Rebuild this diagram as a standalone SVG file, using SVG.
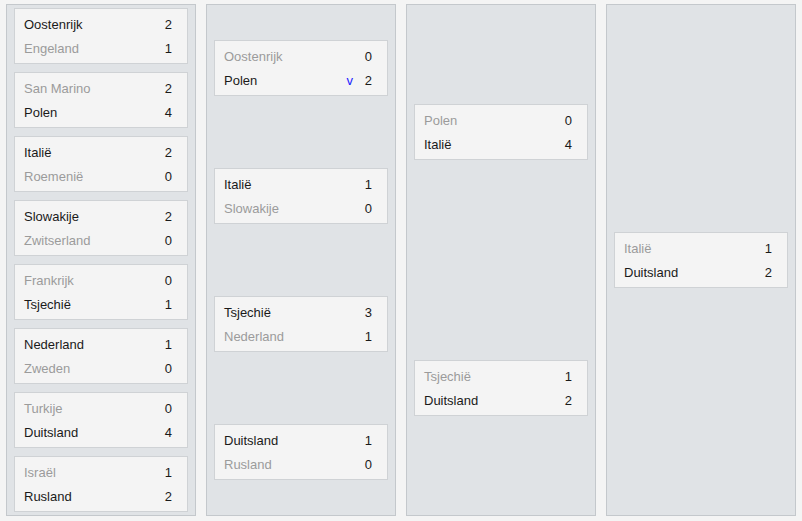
<svg xmlns="http://www.w3.org/2000/svg" width="802" height="521" viewBox="0 0 802 521">
<style>
.col{fill:#e0e3e6;stroke:#c4c8cc;stroke-width:1}
.box{fill:#f4f4f4;stroke:#cfd2d5;stroke-width:1}
text{font-family:"Liberation Sans",Arial,sans-serif;font-size:13px}
.w{fill:#1a1a1a}
.l{fill:#9b9b9b}
.n{fill:#1a1a1a;text-anchor:end}
.v{fill:#1a1aff;text-anchor:end}
</style>
<rect width="802" height="521" fill="#f4f4f4"/>
<g id="columns">
<rect class="col" x="6.5" y="4.5" width="189" height="511"/>
<rect class="col" x="206.5" y="4.5" width="189" height="511"/>
<rect class="col" x="406.5" y="4.5" width="189" height="511"/>
<rect class="col" x="606.5" y="4.5" width="189" height="511"/>
</g>
<g id="connectors"></g>
<g id="r1m1"><rect class="box" x="14.5" y="8.5" width="173" height="55"/><text class="w" x="24" y="29">Oostenrijk</text><text class="n" x="172" y="29">2</text><text class="l" x="24" y="53">Engeland</text><text class="n" x="172" y="53">1</text></g>
<g id="r1m2"><rect class="box" x="14.5" y="72.5" width="173" height="55"/><text class="l" x="24" y="93">San Marino</text><text class="n" x="172" y="93">2</text><text class="w" x="24" y="117">Polen</text><text class="n" x="172" y="117">4</text></g>
<g id="r1m3"><rect class="box" x="14.5" y="136.5" width="173" height="55"/><text class="w" x="24" y="157">Italië</text><text class="n" x="172" y="157">2</text><text class="l" x="24" y="181">Roemenië</text><text class="n" x="172" y="181">0</text></g>
<g id="r1m4"><rect class="box" x="14.5" y="200.5" width="173" height="55"/><text class="w" x="24" y="221">Slowakije</text><text class="n" x="172" y="221">2</text><text class="l" x="24" y="245">Zwitserland</text><text class="n" x="172" y="245">0</text></g>
<g id="r1m5"><rect class="box" x="14.5" y="264.5" width="173" height="55"/><text class="l" x="24" y="285">Frankrijk</text><text class="n" x="172" y="285">0</text><text class="w" x="24" y="309">Tsjechië</text><text class="n" x="172" y="309">1</text></g>
<g id="r1m6"><rect class="box" x="14.5" y="328.5" width="173" height="55"/><text class="w" x="24" y="349">Nederland</text><text class="n" x="172" y="349">1</text><text class="l" x="24" y="373">Zweden</text><text class="n" x="172" y="373">0</text></g>
<g id="r1m7"><rect class="box" x="14.5" y="392.5" width="173" height="55"/><text class="l" x="24" y="413">Turkije</text><text class="n" x="172" y="413">0</text><text class="w" x="24" y="437">Duitsland</text><text class="n" x="172" y="437">4</text></g>
<g id="r1m8"><rect class="box" x="14.5" y="456.5" width="173" height="55"/><text class="l" x="24" y="477">Israël</text><text class="n" x="172" y="477">1</text><text class="w" x="24" y="501">Rusland</text><text class="n" x="172" y="501">2</text></g>
<g id="r2m1"><rect class="box" x="214.5" y="40.5" width="173" height="55"/><text class="l" x="224" y="61">Oostenrijk</text><text class="n" x="372" y="61">0</text><text class="w" x="224" y="85">Polen</text><text class="v" x="353" y="85">v</text><text class="n" x="372" y="85">2</text></g>
<g id="r2m2"><rect class="box" x="214.5" y="168.5" width="173" height="55"/><text class="w" x="224" y="189">Italië</text><text class="n" x="372" y="189">1</text><text class="l" x="224" y="213">Slowakije</text><text class="n" x="372" y="213">0</text></g>
<g id="r2m3"><rect class="box" x="214.5" y="296.5" width="173" height="55"/><text class="w" x="224" y="317">Tsjechië</text><text class="n" x="372" y="317">3</text><text class="l" x="224" y="341">Nederland</text><text class="n" x="372" y="341">1</text></g>
<g id="r2m4"><rect class="box" x="214.5" y="424.5" width="173" height="55"/><text class="w" x="224" y="445">Duitsland</text><text class="n" x="372" y="445">1</text><text class="l" x="224" y="469">Rusland</text><text class="n" x="372" y="469">0</text></g>
<g id="r3m1"><rect class="box" x="414.5" y="104.5" width="173" height="55"/><text class="l" x="424" y="125">Polen</text><text class="n" x="572" y="125">0</text><text class="w" x="424" y="149">Italië</text><text class="n" x="572" y="149">4</text></g>
<g id="r3m2"><rect class="box" x="414.5" y="360.5" width="173" height="55"/><text class="l" x="424" y="381">Tsjechië</text><text class="n" x="572" y="381">1</text><text class="w" x="424" y="405">Duitsland</text><text class="n" x="572" y="405">2</text></g>
<g id="r4m1"><rect class="box" x="614.5" y="232.5" width="173" height="55"/><text class="l" x="624" y="253">Italië</text><text class="n" x="772" y="253">1</text><text class="w" x="624" y="277">Duitsland</text><text class="n" x="772" y="277">2</text></g>
</svg>
